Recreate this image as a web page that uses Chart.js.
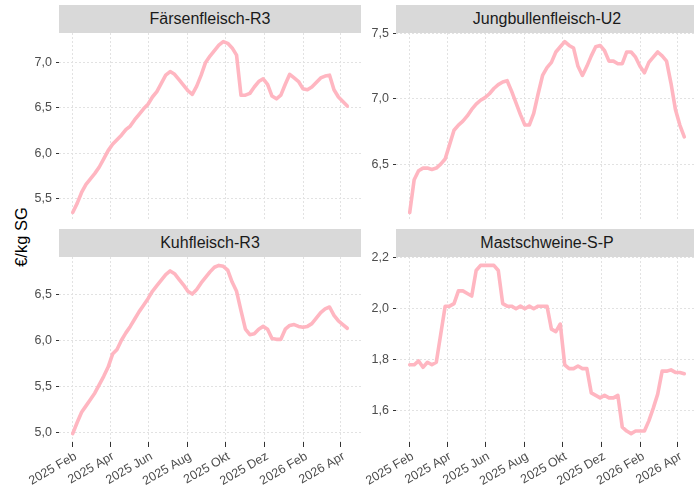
<!DOCTYPE html>
<html><head><meta charset="utf-8">
<script src="https://cdn.jsdelivr.net/npm/chart.js@4"></script>
<style>
html,body{margin:0;padding:0;width:694px;height:486px;overflow:hidden;background:#fff;font-family:"Liberation Sans",Arial,sans-serif;}
canvas{position:absolute;}
.strip{position:absolute;background:#D9D9D9;color:#1A1A1A;font-size:16px;display:flex;align-items:center;justify-content:center;z-index:2;}
#ytitle{position:absolute;left:21px;top:237px;transform:translate(-50%,-50%) rotate(-90deg);font-size:16.5px;color:#000;white-space:nowrap;}
</style></head>
<body>
<div id="ytitle">€/kg SG</div>
<div class="strip" style="left:59px;top:5px;width:302px;height:28px;">Färsenfleisch-R3</div>
<div class="strip" style="left:396px;top:5px;width:302px;height:28px;">Jungbullenfleisch-U2</div>
<div class="strip" style="left:59px;top:229px;width:302px;height:28px;">Kuhfleisch-R3</div>
<div class="strip" style="left:396px;top:229px;width:302px;height:28px;">Mastschweine-S-P</div>
<canvas id="c0"></canvas><canvas id="c1"></canvas><canvas id="c2"></canvas><canvas id="c3"></canvas>
<script>
const weeks = [
"2025-02-01","2025-02-08","2025-02-15","2025-02-22","2025-03-01","2025-03-08","2025-03-15","2025-03-22","2025-03-29",
"2025-04-05","2025-04-12","2025-04-19","2025-04-26","2025-05-03","2025-05-10","2025-05-17","2025-05-24","2025-05-31",
"2025-06-07","2025-06-14","2025-06-21","2025-06-28","2025-07-05","2025-07-12","2025-07-19","2025-07-26",
"2025-08-02","2025-08-09","2025-08-16","2025-08-23","2025-08-30","2025-09-06","2025-09-13","2025-09-20","2025-09-27",
"2025-10-04","2025-10-11","2025-10-18","2025-10-25","2025-11-01","2025-11-08","2025-11-15","2025-11-22","2025-11-29",
"2025-12-06","2025-12-13","2025-12-20","2025-12-27","2026-01-03","2026-01-10","2026-01-17","2026-01-24","2026-01-31",
"2026-02-07","2026-02-14","2026-02-21","2026-02-28","2026-03-07","2026-03-14","2026-03-21","2026-03-28","2026-04-04","2026-04-11"];

const faersen = [5.35,5.45,5.57,5.66,5.72,5.78,5.85,5.94,6.03,6.10,6.15,6.20,6.26,6.30,6.37,6.43,6.49,6.54,6.62,6.68,
6.77,6.86,6.90,6.87,6.81,6.75,6.69,6.65,6.74,6.86,7.00,7.07,7.13,7.19,7.23,7.21,7.16,7.08,6.64,6.64,
6.66,6.73,6.79,6.82,6.76,6.63,6.60,6.64,6.76,6.87,6.83,6.79,6.71,6.70,6.73,6.78,6.83,6.85,6.86,6.70,
6.62,6.57,6.52];
const jungbullen = [6.13,6.38,6.45,6.47,6.47,6.46,6.47,6.50,6.54,6.65,6.76,6.80,6.83,6.87,6.92,6.96,6.99,7.01,7.04,7.08,
7.11,7.13,7.14,7.06,6.97,6.88,6.80,6.80,6.89,7.04,7.18,7.24,7.28,7.36,7.40,7.44,7.41,7.39,7.25,7.18,
7.25,7.33,7.40,7.41,7.37,7.29,7.29,7.27,7.27,7.36,7.36,7.32,7.25,7.20,7.28,7.32,7.36,7.33,7.29,7.12,
6.92,6.80,6.71];
const kuh = [4.99,5.11,5.22,5.29,5.36,5.43,5.52,5.61,5.71,5.85,5.90,6.00,6.08,6.15,6.23,6.31,6.38,6.45,6.53,6.59,
6.65,6.71,6.75,6.72,6.66,6.60,6.53,6.50,6.55,6.62,6.68,6.74,6.79,6.81,6.80,6.76,6.63,6.53,6.32,6.12,
6.06,6.07,6.12,6.15,6.12,6.02,6.01,6.01,6.12,6.16,6.17,6.15,6.14,6.15,6.18,6.24,6.30,6.34,6.36,6.27,
6.21,6.17,6.13];
const schweine = [1.78,1.78,1.795,1.77,1.79,1.78,1.79,1.90,2.01,2.01,2.02,2.07,2.07,2.06,2.05,2.15,2.17,2.17,2.17,2.17,
2.15,2.02,2.01,2.01,2.00,2.01,2.00,2.01,2.00,2.01,2.01,2.01,1.92,1.91,1.94,1.78,1.765,1.765,1.775,1.765,
1.765,1.67,1.66,1.65,1.66,1.65,1.65,1.66,1.535,1.52,1.51,1.52,1.52,1.52,1.56,1.61,1.665,1.755,1.755,1.76,
1.75,1.75,1.745];

const panelTitles = ["Färsenfleisch-R3","Jungbullenfleisch-U2","Kuhfleisch-R3","Mastschweine-S-P"];
const yTicks = [[5.5,6.0,6.5,7.0],[6.5,7.0,7.5],[5.0,5.5,6.0,6.5],[1.6,1.8,2.0,2.2]];
const xTickDates = ["2025-02-01","2025-04-01","2025-06-01","2025-08-01","2025-10-01","2025-12-01","2026-02-01","2026-04-01"];
const xTickLabels = ["2025 Feb","2025 Apr","2025 Jun","2025 Aug","2025 Okt","2025 Dez","2026 Feb","2026 Apr"];

const dayNum = s => Date.UTC(+s.slice(0,4), +s.slice(5,7)-1, +s.slice(8,10)) / 86400000;
const xs = weeks.map(dayNum);
const xSpan = xs[xs.length-1] - xs[0];
const xMin = xs[0] - 0.05*xSpan, xMax = xs[xs.length-1] + 0.05*xSpan;
const xTickVals = xTickDates.map(dayNum);

const FONT = "'Liberation Sans', Arial, sans-serif";
const series = [faersen, jungbullen, kuh, schweine];
const geom = [
  {id:'c0', left:0,   top:20,  w:361, h:201, yw:59, bottom:false},
  {id:'c1', left:362, top:20,  w:336, h:201, yw:34, bottom:false},
  {id:'c2', left:0,   top:244, w:361, h:242, yw:59, bottom:true},
  {id:'c3', left:362, top:244, w:336, h:242, yw:34, bottom:true}
];

series.forEach((vals, i) => {
  const g = geom[i];
  const cv = document.getElementById(g.id);
  cv.width = g.w; cv.height = g.h;
  cv.style.left = g.left + 'px'; cv.style.top = g.top + 'px';
  cv.style.width = g.w + 'px'; cv.style.height = g.h + 'px';
  const lo = Math.min(...vals), hi = Math.max(...vals), r = hi - lo;
  new Chart(cv, {
    type: 'line',
    data: { datasets: [{
      label: panelTitles[i],
      data: vals.map((v, k) => ({x: xs[k], y: v})),
      borderColor: '#FFB6C1', borderWidth: 3.6, pointRadius: 0,
      borderJoinStyle: 'round', borderCapStyle: 'round', tension: 0, fill: false
    }]},
    options: {
      responsive: false, animation: false, devicePixelRatio: 1,
      layout: { padding: { top: 13, left: 0, right: 0, bottom: 0 } },
      plugins: { legend: {display:false}, tooltip: {enabled:false}, title: {display:false} },
      scales: {
        x: {
          type: 'linear', min: xMin, max: xMax,
          afterBuildTicks: s => { s.ticks = xTickVals.map(v => ({value: v})); },
          afterFit: s => { s.height = g.bottom ? 44 : 0; s.paddingLeft = 0; s.paddingRight = 0; },
          border: { display: false, dash: [2,2] },
          grid: { color: '#E2E2E2', lineWidth: 1, drawTicks: g.bottom, tickLength: 5, tickColor: '#333333', tickWidth: 1 },
          ticks: {
            display: g.bottom, autoSkip: false, minRotation: 30, maxRotation: 30, padding: 2, labelOffset: 3,
            color: '#4D4D4D', font: { family: FONT, size: 12.5 },
            callback: v => { const j = xTickVals.indexOf(v); return j >= 0 ? xTickLabels[j] : ''; }
          }
        },
        y: {
          min: lo - 0.05*r, max: hi + 0.05*r,
          afterBuildTicks: s => { s.ticks = yTicks[i].map(v => ({value: v})); },
          afterFit: s => { s.width = g.yw; s.paddingTop = 0; s.paddingBottom = 0; },
          border: { display: false, dash: [2,2] },
          grid: { color: '#E2E2E2', lineWidth: 1, drawTicks: true, tickLength: 3, tickColor: '#333333', tickWidth: 1 },
          ticks: {
            padding: 4, color: '#4D4D4D', font: { family: FONT, size: 12.5 },
            callback: v => v.toFixed(1).replace('.', ',')
          }
        }
      }
    }
  });
});
</script>
</body></html>
